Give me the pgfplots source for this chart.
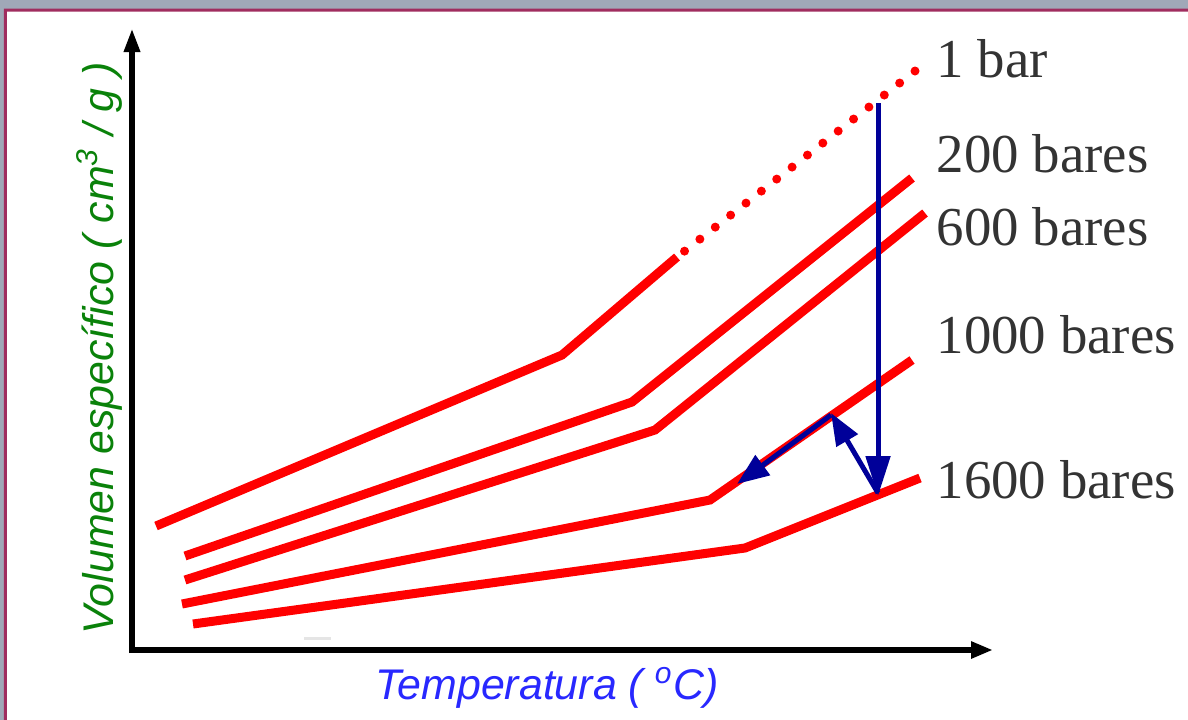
\documentclass[border=0pt]{standalone}
\usepackage{pgfplots}
\pgfplotsset{compat=1.18}
\usepackage{fontspec}
\setmainfont{Liberation Serif}
\newfontfamily\arial{Liberation Sans}
\usetikzlibrary{arrows.meta}
\definecolor{bgframe}{RGB}{160,168,184}
\definecolor{maroon}{RGB}{160,45,95}
\definecolor{navyarrow}{RGB}{0,0,153}
\definecolor{lblgreen}{RGB}{10,130,10}
\definecolor{lblblue}{RGB}{40,40,255}
\definecolor{txtgrey}{RGB}{51,51,51}
\begin{document}
\begin{tikzpicture}
\begin{axis}[scale only axis, width=11.88cm, height=7.2cm,
  xmin=0, xmax=1188, ymin=0, ymax=720, y dir=reverse,
  axis lines=none]
% frame
\addplot[fill=bgframe, draw=none] coordinates {(0,0) (1188,0) (1188,720) (0,720) (0,0)};
\addplot[fill=maroon, draw=none] coordinates {(4,8.5) (1188,8.5) (1188,720) (4,720) (4,8.5)};
\addplot[fill=white, draw=none] coordinates {(7,11.5) (1188,11.5) (1188,720) (7,720) (7,11.5)};
% axes
\addplot[black, line width=0.06cm, -{Triangle[length=0.24cm, width=0.15cm]}] coordinates {(132,653) (132,28)};
\addplot[black, line width=0.06cm, -{Triangle[length=0.22cm, width=0.16cm]}] coordinates {(129,650) (993,650)};
\addplot[black!10, line width=0.03cm] coordinates {(304,638) (331,638)};
% isobars
\addplot[red, line width=0.09cm] coordinates {(156,526) (562,355) (677,257)};
\addplot[red, line width=0.09cm, line cap=round, dash pattern=on 0pt off 0.195cm] coordinates {(915,71) (677,257)};
\addplot[red, line width=0.09cm] coordinates {(185,556) (632,402) (912,178)};
\addplot[red, line width=0.09cm] coordinates {(185,580) (655,430) (925,213)};
\addplot[red, line width=0.09cm] coordinates {(182,604) (710,500) (912,360)};
\addplot[red, line width=0.09cm] coordinates {(193,624) (745,548) (920,478)};
% blue arrows
\addplot[navyarrow, line width=0.05cm, -{Triangle[length=0.40cm, width=0.24cm]}] coordinates {(878,103) (878,496)};
\addplot[navyarrow, line width=0.05cm, -{Triangle[length=0.32cm, width=0.24cm]}] coordinates {(878,493) (831,413)};
\addplot[navyarrow, line width=0.05cm, -{Triangle[length=0.32cm, width=0.24cm]}] coordinates {(831,415) (737,484)};
% labels
\node[anchor=base west, text=txtgrey, font=\fontsize{15.6}{18}\selectfont, inner sep=0pt] at (936,77) {1 bar};
\node[anchor=base west, text=txtgrey, font=\fontsize{15.6}{18}\selectfont, inner sep=0pt] at (936,172) {200 bares};
\node[anchor=base west, text=txtgrey, font=\fontsize{15.6}{18}\selectfont, inner sep=0pt] at (936,245) {600 bares};
\node[anchor=base west, text=txtgrey, font=\fontsize{15.6}{18}\selectfont, inner sep=0pt] at (936,353) {1000 bares};
\node[anchor=base west, text=txtgrey, font=\fontsize{15.6}{18}\selectfont, inner sep=0pt] at (936,498) {1600 bares};
\node[anchor=base, rotate=90, text=lblgreen, font=\arial\itshape\fontsize{12.2}{14}\selectfont, inner sep=0pt] at (113,348) {Volumen específico ( cm\textsuperscript{3} / g )};
\node[anchor=base, text=lblblue, font=\arial\itshape\fontsize{12.2}{14}\selectfont, inner sep=0pt] at (547,699) {Temperatura ( \textsuperscript{o}C)};
\end{axis}
\end{tikzpicture}
\end{document}
